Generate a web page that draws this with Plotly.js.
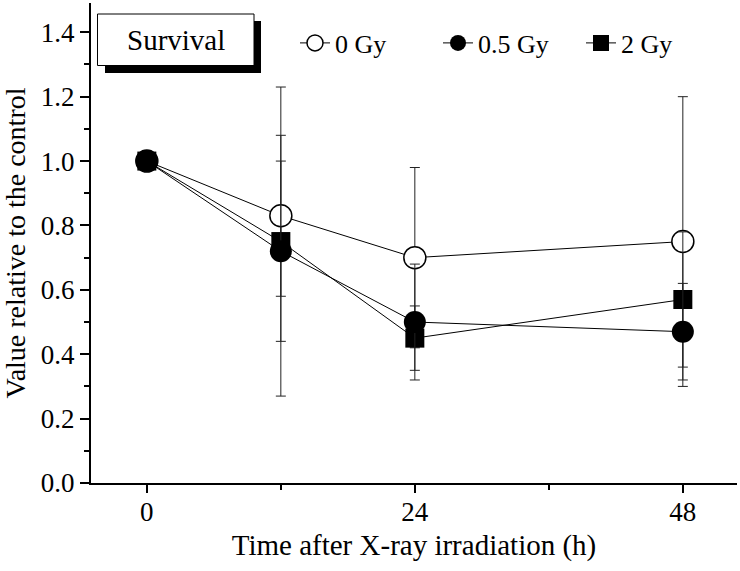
<!DOCTYPE html>
<html>
<head>
<meta charset="utf-8">
<script src="https://cdn.plot.ly/plotly-3.0.1.min.js"></script>
<style>html,body{margin:0;padding:0;background:#fff;}#chart{width:740px;height:571px;}</style>
</head>
<body>
<div id="chart"></div>
<script>
// Data
const timeHours = [0, 12, 24, 48];
const seriesNames = ['0 Gy', '0.5 Gy', '2 Gy'];
const survival0Gy = [1.0, 0.83, 0.70, 0.75];
const error0Gy = [0, 0.25, 0.28, 0.45];
const survival05Gy = [1.0, 0.72, 0.50, 0.47];
const error05Gy = [0, 0.28, 0.18, 0.15];
const survival2Gy = [1.0, 0.75, 0.45, 0.57];
const error2Gy = [0, 0.48, 0.10, 0.21];
const xTickVals = [0, 24, 48];
const xTickText = ['0', '24', '48'];
const yTickVals = [0, 0.2, 0.4, 0.6, 0.8, 1.0, 1.2, 1.4];
const yTickText = ['0.0', '0.2', '0.4', '0.6', '0.8', '1.0', '1.2', '1.4'];
const panelLabel = 'Survival';

const FONT = 'Liberation Serif, Times New Roman, serif';

function errBar(arr) {
  return {type: 'data', array: arr, visible: true, color: '#222', thickness: 1, width: 5};
}

const traces = [
  {
    x: timeHours, y: survival0Gy, name: seriesNames[0], legendrank: 1,
    type: 'scatter', mode: 'lines+markers',
    line: {color: '#000', width: 1},
    marker: {symbol: 'circle', size: 22, color: '#fff', line: {color: '#000', width: 1.5}},
    error_y: errBar(error0Gy)
  },
  {
    x: timeHours, y: survival2Gy, name: seriesNames[2], legendrank: 3,
    type: 'scatter', mode: 'lines+markers',
    line: {color: '#000', width: 1},
    marker: {symbol: 'square', size: 19, color: '#000', line: {color: '#000', width: 0}},
    error_y: errBar(error2Gy)
  },
  {
    x: timeHours, y: survival05Gy, name: seriesNames[1], legendrank: 2,
    type: 'scatter', mode: 'lines+markers',
    line: {color: '#000', width: 1},
    marker: {symbol: 'circle', size: 22, color: '#000', line: {color: '#000', width: 0}},
    error_y: errBar(error05Gy)
  }
];

const L = 91, R = 3, T = 3, B = 88, W = 740, H = 571;
const pw = W - L - R, ph = H - T - B;
const px = v => (v - L) / pw;
const py = v => (H - B - v) / ph;

const layout = {
  width: W, height: H,
  margin: {l: L, r: R, t: T, b: B, pad: 0},
  paper_bgcolor: '#fff', plot_bgcolor: '#fff',
  font: {family: FONT, color: '#000', size: 26},
  showlegend: true,
  legend: {
    orientation: 'h', x: px(295), xanchor: 'left', y: py(43), yanchor: 'middle',
    font: {family: FONT, size: 26, color: '#000'},
    entrywidth: 98, entrywidthmode: 'pixels',
    bgcolor: 'rgba(0,0,0,0)', borderwidth: 0, traceorder: 'normal'
  },
  xaxis: {
    range: [-5, 52.85], showgrid: false, zeroline: false,
    showline: true, linecolor: '#000', linewidth: 2,
    tickmode: 'array', tickvals: xTickVals, ticktext: xTickText,
    ticks: 'outside', ticklen: 8, tickwidth: 2, tickcolor: '#000',
    ticklabelstandoff: -4,
    tickfont: {family: FONT, size: 27, color: '#000'},
    minor: {dtick: 12, tick0: 0, ticks: 'outside', ticklen: 5, tickwidth: 2, tickcolor: '#000', showgrid: false},
    title: {text: 'Time after X-ray irradiation (h)', font: {family: FONT, size: 29, color: '#000'}, standoff: 8},
    fixedrange: true
  },
  yaxis: {
    range: [0, 1.491], showgrid: false, zeroline: false,
    showline: true, linecolor: '#000', linewidth: 2,
    tickmode: 'array', tickvals: yTickVals, ticktext: yTickText,
    ticks: 'outside', ticklen: 9, tickwidth: 2, tickcolor: '#000',
    tickfont: {family: FONT, size: 27, color: '#000'},
    minor: {dtick: 0.1, tick0: 0, ticks: 'outside', ticklen: 5, tickwidth: 2, tickcolor: '#000', showgrid: false},
    title: {text: 'Value relative to the control', font: {family: FONT, size: 28, color: '#000'}, standoff: 12},
    fixedrange: true
  },
  shapes: [
    {type: 'rect', xref: 'paper', yref: 'paper', x0: px(105), x1: px(261), y0: py(73), y1: py(21),
     fillcolor: '#000', line: {width: 0}, layer: 'above'},
    {type: 'rect', xref: 'paper', yref: 'paper', x0: px(97.5), x1: px(254), y0: py(65.5), y1: py(14),
     fillcolor: '#fff', line: {color: '#000', width: 1}, layer: 'above'}
  ],
  annotations: [
    {text: panelLabel, xref: 'paper', yref: 'paper', x: px(176), y: py(40), xanchor: 'center', yanchor: 'middle',
     showarrow: false, font: {family: FONT, size: 29, color: '#000'}}
  ],
  hovermode: false
};

Plotly.newPlot('chart', traces, layout, {displayModeBar: false, staticPlot: true});
</script>
</body>
</html>
